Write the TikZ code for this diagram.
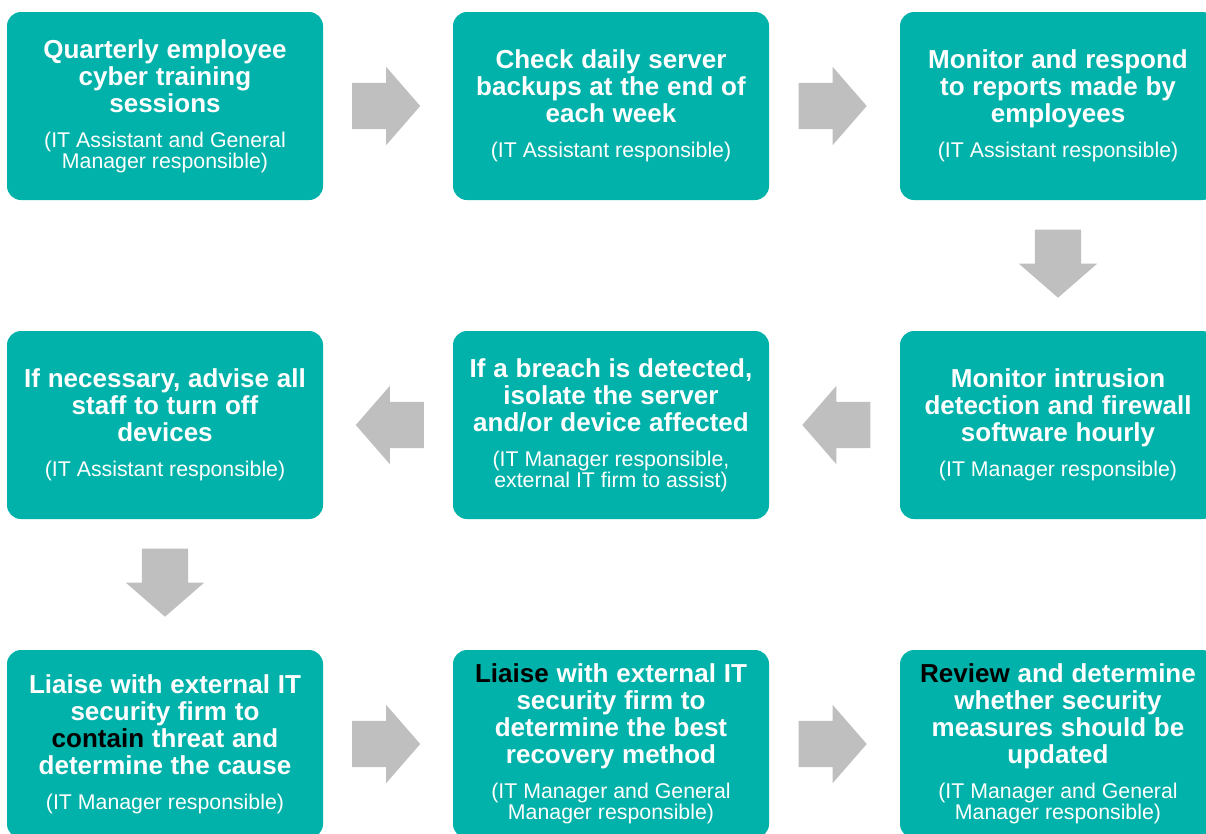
\documentclass[tikz,border=0pt]{standalone}
\usepackage{fontspec}
\setmainfont{Liberation Sans}
\usetikzlibrary{shapes.arrows,calc}

\definecolor{stepteal}{HTML}{00B2A9}
\definecolor{arrowgray}{HTML}{BFBFBF}

\tikzset{
  task/.style={fill=stepteal, rounded corners=14pt, minimum width=316pt, minimum height=188pt,
    inner sep=0pt, text width=316pt, align=center, text=white},
  flow/.style={single arrow, fill=arrowgray, draw=none, inner xsep=0pt, inner ysep=23pt, anchor=tail,
    minimum height=68pt, single arrow head extend=16pt, single arrow tip angle=98},
}
\newcommand{\steptitle}[1]{{\fontsize{26}{27}\selectfont\bfseries\spaceskip=0.3em #1\par}}
\newcommand{\stepwho}[1]{{\vspace{14pt}\fontsize{21.3}{21}\selectfont\spaceskip=0.28em #1\par}}

\begin{document}
\begin{tikzpicture}[x=1pt,y=-1pt]
\useasboundingbox (0,0) rectangle (1206,833);
\clip (0,0) rectangle (1206,833);

% row 1
\node[task] (s1) at (165,106) {\steptitle{Quarterly employee\\cyber training\\sessions}\stepwho{(IT Assistant and General\\Manager responsible)}};
\node[task] (s2) at (611,106) {\steptitle{Check daily server\\backups at the end of\\each week}\stepwho{(IT Assistant responsible)}};
\node[task] (s3) at (1058,106) {\steptitle{Monitor and respond\\to reports made by\\employees}\stepwho{(IT Assistant responsible)}};
% row 2
\node[task] (s4) at (1058,425) {\steptitle{Monitor intrusion\\detection and firewall\\software hourly}\stepwho{(IT Manager responsible)}};
\node[task] (s5) at (611,425) {\steptitle{If a breach is detected,\\isolate the server\\and/or device affected}\stepwho{(IT Manager responsible,\\external IT firm to assist)}};
\node[task] (s6) at (165,425) {\steptitle{If necessary, advise all\\staff to turn off\\devices}\stepwho{(IT Assistant responsible)}};
% row 3
\node[task] (s7) at (165,744) {\steptitle{Liaise with external IT\\security firm to\\\textcolor{black}{contain} threat and\\determine the cause}\stepwho{(IT Manager responsible)}};
\node[task] (s8) at (611,744) {\steptitle{\textcolor{black}{Liaise} with external IT\\security firm to\\determine the best\\recovery method}\stepwho{(IT Manager and General\\Manager responsible)}};
\node[task] (s9) at (1058,744) {\steptitle{\textcolor{black}{Review} and determine\\whether security\\measures should be\\updated}\stepwho{(IT Manager and General\\Manager responsible)}};

% arrows, tail placed 36pt before the gap's middle
\node[flow] (a12) at ($(s1.east)!0.5!(s2.west)+(-36,0)$) {};
\node[flow] (a23) at ($(s2.east)!0.5!(s3.west)+(-36,0)$) {};
\node[flow, rotate=270] (a34) at ($(s3.south)!0.5!(s4.north)+(0,-36)$) {};
\node[flow, rotate=180] (a45) at ($(s4.west)!0.5!(s5.east)+(36,0)$) {};
\node[flow, rotate=180] (a56) at ($(s5.west)!0.5!(s6.east)+(36,0)$) {};
\node[flow, rotate=270] (a67) at ($(s6.south)!0.5!(s7.north)+(0,-36)$) {};
\node[flow] (a78) at ($(s7.east)!0.5!(s8.west)+(-36,0)$) {};
\node[flow] (a89) at ($(s8.east)!0.5!(s9.west)+(-36,0)$) {};
\end{tikzpicture}
\end{document}
